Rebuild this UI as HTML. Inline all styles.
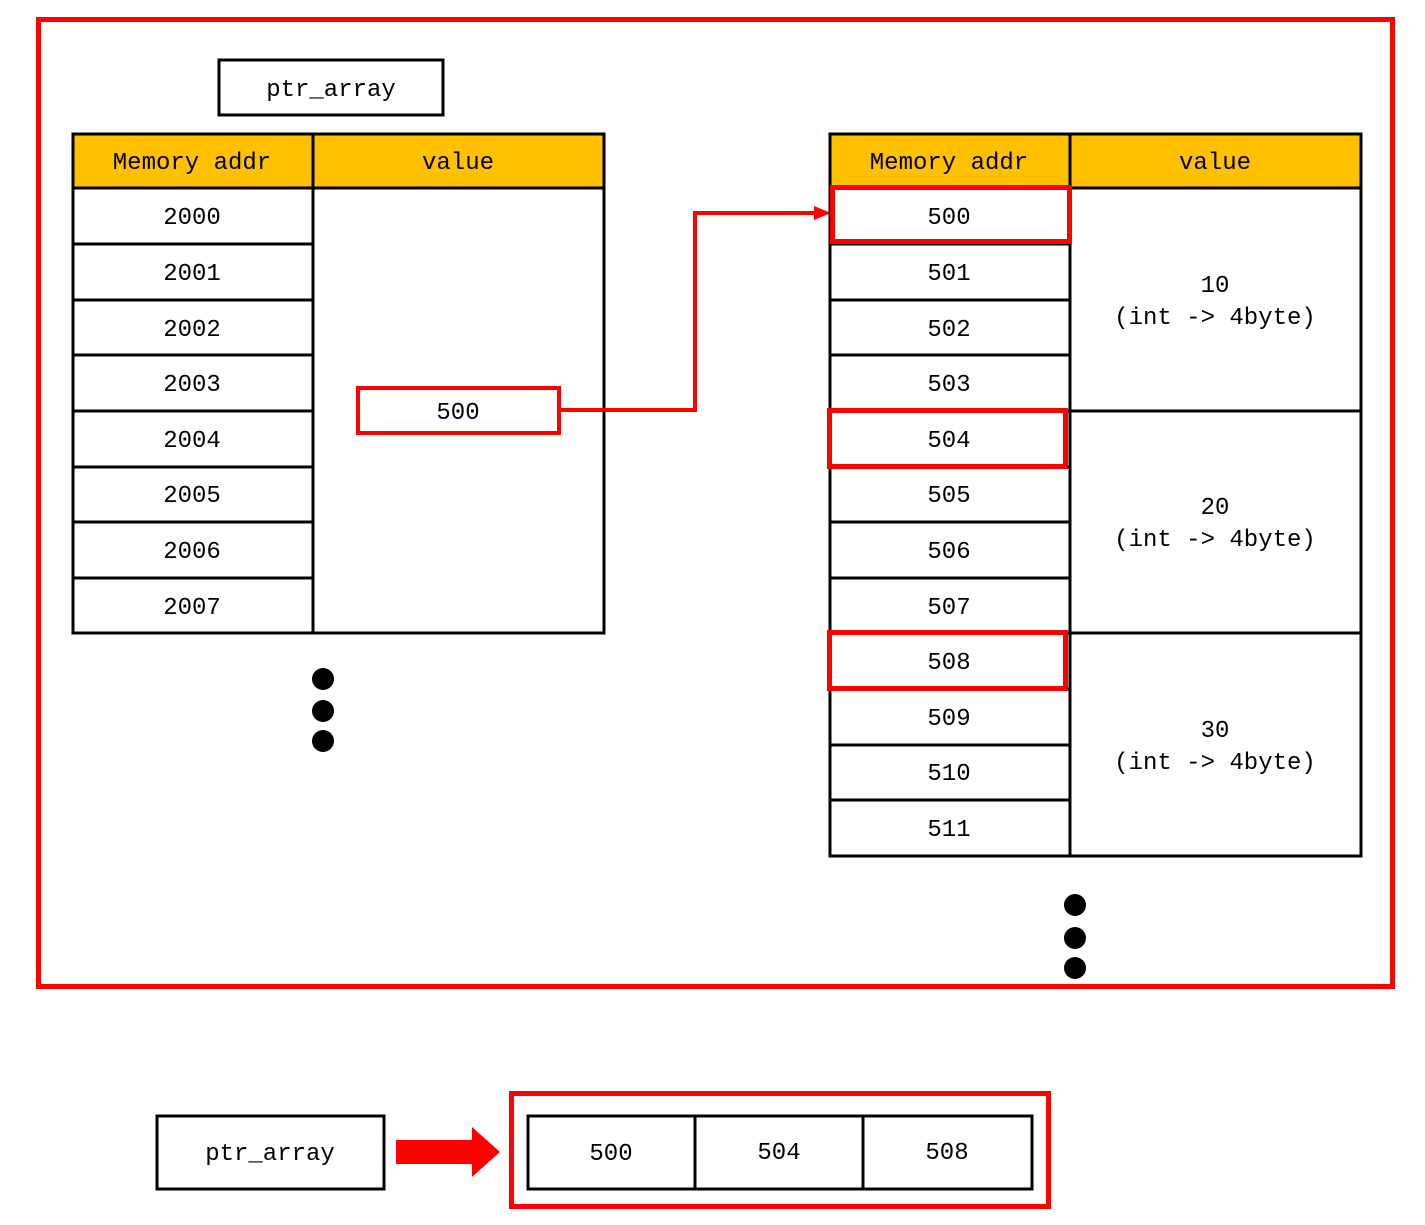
<!DOCTYPE html>
<html><head><meta charset="utf-8"><style>
html,body{margin:0;padding:0;background:#fff;}
svg{display:block;}
text{font-family:"Liberation Mono","DejaVu Sans Mono",monospace;font-size:24px;fill:#000;text-anchor:middle;}
</style></head><body>
<svg width="1425" height="1225" viewBox="0 0 1425 1225" xmlns="http://www.w3.org/2000/svg">
<rect x="0" y="0" width="1425" height="1225" fill="#fff"/>
<rect x="38.5" y="19.5" width="1354" height="967" fill="none" stroke="#f00" stroke-width="5"/>

<!-- ptr_array top -->
<rect x="219" y="60" width="224" height="55" fill="#fff" stroke="#000" stroke-width="3"/>
<text x="331" y="96">ptr_array</text>

<!-- Left table -->
<rect x="73" y="134" width="531" height="54" fill="#FFC000"/>
<g stroke="#000" stroke-width="3" fill="none">
<rect x="73" y="134" width="531" height="499"/>
<line x1="73" y1="188" x2="604" y2="188"/>
<line x1="313" y1="134" x2="313" y2="633"/>
<line x1="73" y1="244" x2="313" y2="244"/>
<line x1="73" y1="300" x2="313" y2="300"/>
<line x1="73" y1="355" x2="313" y2="355"/>
<line x1="73" y1="411" x2="313" y2="411"/>
<line x1="73" y1="467" x2="313" y2="467"/>
<line x1="73" y1="522" x2="313" y2="522"/>
<line x1="73" y1="578" x2="313" y2="578"/>
</g>
<text x="192" y="169">Memory addr</text>
<text x="458" y="169">value</text>
<text x="192" y="224">2000</text>
<text x="192" y="280">2001</text>
<text x="192" y="336">2002</text>
<text x="192" y="391">2003</text>
<text x="192" y="447">2004</text>
<text x="192" y="502">2005</text>
<text x="192" y="558">2006</text>
<text x="192" y="614">2007</text>

<rect x="358" y="388" width="201" height="45" fill="#fff" stroke="#f00" stroke-width="4"/>
<text x="458" y="419">500</text>

<!-- connector -->
<polyline points="559,410 695,410 695,213 818,213" fill="none" stroke="#f00" stroke-width="4"/>
<polygon points="814,206 831,213 814,220" fill="#f00"/>

<!-- Right table -->
<rect x="830" y="134" width="531" height="54" fill="#FFC000"/>
<g stroke="#000" stroke-width="3" fill="none">
<rect x="830" y="134" width="531" height="722"/>
<line x1="830" y1="188" x2="1361" y2="188"/>
<line x1="1070" y1="134" x2="1070" y2="856"/>
<line x1="1070" y1="411" x2="1361" y2="411"/>
<line x1="1070" y1="633" x2="1361" y2="633"/>
<line x1="830" y1="244" x2="1070" y2="244"/>
<line x1="830" y1="300" x2="1070" y2="300"/>
<line x1="830" y1="355" x2="1070" y2="355"/>
<line x1="830" y1="411" x2="1070" y2="411"/>
<line x1="830" y1="467" x2="1070" y2="467"/>
<line x1="830" y1="522" x2="1070" y2="522"/>
<line x1="830" y1="578" x2="1070" y2="578"/>
<line x1="830" y1="633" x2="1070" y2="633"/>
<line x1="830" y1="689" x2="1070" y2="689"/>
<line x1="830" y1="745" x2="1070" y2="745"/>
<line x1="830" y1="800" x2="1070" y2="800"/>
</g>
<text x="949" y="169">Memory addr</text>
<text x="1215" y="169">value</text>
<text x="949" y="224">500</text>
<text x="949" y="280">501</text>
<text x="949" y="336">502</text>
<text x="949" y="391">503</text>
<text x="949" y="447">504</text>
<text x="949" y="502">505</text>
<text x="949" y="558">506</text>
<text x="949" y="614">507</text>
<text x="949" y="669">508</text>
<text x="949" y="725">509</text>
<text x="949" y="780">510</text>
<text x="949" y="836">511</text>
<text x="1215" y="292">10</text>
<text x="1215" y="324">(int -&gt; 4byte)</text>
<text x="1215" y="514">20</text>
<text x="1215" y="546">(int -&gt; 4byte)</text>
<text x="1215" y="737">30</text>
<text x="1215" y="769">(int -&gt; 4byte)</text>

<g fill="none" stroke="#f00" stroke-width="5">
<rect x="832.5" y="187.5" width="237" height="54"/>
<rect x="829.5" y="410.5" width="236" height="56"/>
<rect x="829.5" y="632.5" width="236" height="56"/>
</g>

<!-- dots -->
<g fill="#000">
<circle cx="323" cy="679" r="11"/>
<circle cx="323" cy="711" r="11"/>
<circle cx="323" cy="741" r="11"/>
<circle cx="1075" cy="905" r="11"/>
<circle cx="1075" cy="938" r="11"/>
<circle cx="1075" cy="968" r="11"/>
</g>

<!-- bottom -->
<rect x="157" y="1116" width="227" height="73" fill="#fff" stroke="#000" stroke-width="3"/>
<text x="270" y="1160">ptr_array</text>
<rect x="396" y="1140" width="76" height="24" fill="#f00"/>
<polygon points="472,1127 500,1152 472,1177" fill="#f00"/>
<rect x="511.5" y="1093.5" width="537" height="113" fill="none" stroke="#f00" stroke-width="5"/>
<g stroke="#000" stroke-width="3" fill="none">
<rect x="528" y="1116" width="504" height="73"/>
<line x1="695" y1="1116" x2="695" y2="1189"/>
<line x1="863" y1="1116" x2="863" y2="1189"/>
</g>
<text x="611" y="1160">500</text>
<text x="779" y="1159">504</text>
<text x="947" y="1159">508</text>
</svg>
</body></html>
